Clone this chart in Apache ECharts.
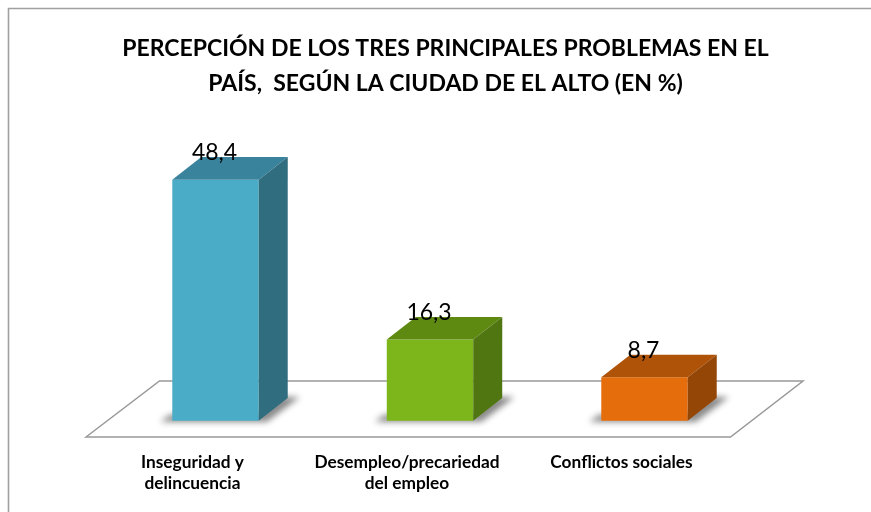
<!DOCTYPE html>
<html><head><meta charset="utf-8">
<style>html,body{margin:0;padding:0;background:#fff}#c{width:871px;height:512px}</style>
<script src="https://cdn.jsdelivr.net/npm/echarts@6/dist/echarts.min.js"></script>
</head><body><div id="c"></div>
<script>
const titleText = 'PERCEPCIÓN DE LOS TRES PRINCIPALES PROBLEMAS EN EL\nPAÍS,  SEGÚN LA CIUDAD DE EL ALTO (EN %)';
const categories = ['Inseguridad y\ndelincuencia', 'Desempleo/precariedad\ndel empleo', 'Conflictos sociales'];
const values = [48.4, 16.3, 8.7];
const valueLabels = ['48,4', '16,3', '8,7'];
const frontColors = ['#4AACC7', '#7DB61A', '#E56D0B'];
const topColors = ['#39839C', '#5F8A12', '#AF5308'];
const sideColors = ['#306D7F', '#507612', '#944607'];
const FONT = 'Lato, "Open Sans", sans-serif';
const DX = 29, DY = 22.6;
const OFF = 2000;

const chart = echarts.init(document.getElementById('c'), null, {renderer: 'canvas'});
chart.setOption({
  animation: false,
  backgroundColor: '#fff',
  title: {
    text: titleText, left: 440.5, top: 26, textAlign: 'center',
    textStyle: {fontFamily: FONT, fontSize: 23, fontWeight: 'bold', color: '#000', lineHeight: 35}
  },
  grid: {left: 108.25, width: 643.5, top: 171.7, height: 249},
  xAxis: {
    type: 'category', data: categories,
    axisLine: {show: false}, axisTick: {show: false}, splitLine: {show: false},
    axisLabel: {
      interval: 0, margin: 31, padding: [0, 46, 0, 0],
      fontFamily: FONT, fontSize: 17.3, fontWeight: 'bold', color: '#000', lineHeight: 21
    }
  },
  yAxis: {type: 'value', min: 0, max: 50, show: false},
  graphic: [
    {type: 'polyline', z: 0, shape: {points: [[8.5, 512], [8.5, 8.5], [871, 8.5]]},
     style: {fill: 'none', stroke: '#A0A0A0', lineWidth: 1.6}},
    {type: 'polygon', z: 1, shape: {points: [[86, 437], [159.5, 381], [803, 381], [730.5, 437]]},
     style: {fill: '#fff', stroke: '#999999', lineWidth: 1.5}}
  ],
  series: [{
    type: 'custom', z: 5,
    data: values,
    clip: false,
    renderItem(params, api) {
      const i = params.dataIndex;
      const base = api.coord([i, 0]);
      const top = api.coord([i, api.value(1)]);
      const w = api.size([1, 0])[0] * 0.403;
      const l = base[0] - w / 2, r = base[0] + w / 2, b = base[1], t = top[1];
      const shadowPts = [[l - 12, b + 1], [l - 2, b - 6], [r, b - 6], [r + DX - 6, b - DY - 1], [r + DX + 12, b - DY - 1], [r + 8, b + 1]];
      return {type: 'group', children: [
        {type: 'polygon', shape: {points: shadowPts.map(p => [p[0] - OFF, p[1]])},
         style: {fill: '#000', shadowBlur: 6, shadowOffsetX: OFF, shadowColor: 'rgba(0,0,0,0.48)'}},
        {type: 'rect', shape: {x: l, y: t, width: w, height: b - t}, style: {fill: frontColors[i]}},
        {type: 'polygon', shape: {points: [[l, t], [l + DX, t - DY], [r + DX, t - DY], [r, t]]}, style: {fill: topColors[i]}},
        {type: 'polygon', shape: {points: [[r, t], [r + DX, t - DY], [r + DX, b - DY], [r, b]]}, style: {fill: sideColors[i]}},
        {type: 'text', z2: 10, style: {text: valueLabels[i], x: base[0] - 1, y: t - 27, align: 'center', verticalAlign: 'middle',
          fontFamily: FONT, fontSize: 23, fill: '#000'}}
      ]};
    }
  }]
});
</script></body></html>
